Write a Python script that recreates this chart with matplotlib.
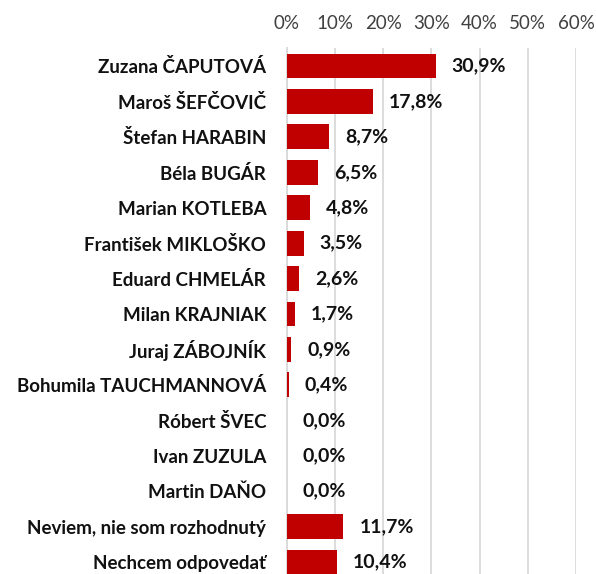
import matplotlib
matplotlib.use("Agg")
import matplotlib.pyplot as plt
import numpy as np

plt.rcParams['font.family'] = ['Lato', 'DejaVu Sans']

candidates = ["Zuzana ČAPUTOVÁ", "Maroš ŠEFČOVIČ", "Štefan HARABIN", "Béla BUGÁR",
              "Marian KOTLEBA", "František MIKLOŠKO", "Eduard CHMELÁR", "Milan KRAJNIAK",
              "Juraj ZÁBOJNÍK", "Bohumila TAUCHMANNOVÁ", "Róbert ŠVEC", "Ivan ZUZULA",
              "Martin DAŇO", "Neviem, nie som rozhodnutý", "Nechcem odpovedať"]
shares = [30.9, 17.8, 8.7, 6.5, 4.8, 3.5, 2.6, 1.7, 0.9, 0.4, 0.0, 0.0, 0.0, 11.7, 10.4]
ticks = [0, 10, 20, 30, 40, 50, 60]

fig = plt.figure(figsize=(5.96, 5.74), dpi=100)
ax = fig.add_axes([0.4815, -0.0099, 0.4849, 0.9258])

y = np.arange(len(candidates))
ax.barh(y, shares, height=0.7, color="#C00000", zorder=3)

# percentage labels next to each bar
for yi, v in zip(y, shares):
    ax.annotate(f"{v:.1f}%".replace(".", ","), (v, yi), xytext=(16, 0),
                textcoords="offset pixels",
                va="center", ha="left", fontsize=14, fontweight="bold", color="#111111")

ax.set_xlim(0, 60)
ax.set_ylim(len(candidates) - 0.5, -0.5)
ax.set_xticks(ticks)
ax.set_xticklabels([f"{t}%" for t in ticks], fontsize=13.5, color="#404040")
ax.xaxis.tick_top()
ax.set_yticks(y)
ax.set_yticklabels(candidates, fontsize=13.5, fontweight="bold", color="#111111")
ax.tick_params(axis="x", length=0, pad=12)
ax.tick_params(axis="y", length=0, pad=15)
ax.grid(axis="x", color="#D9D9D9", linewidth=1.3, zorder=0)
for s in ["top", "right", "bottom"]:
    ax.spines[s].set_visible(False)
ax.spines["left"].set_color("#D9D9D9")
ax.spines["left"].set_linewidth(1.3)

fig.savefig("out.png", dpi=100)
